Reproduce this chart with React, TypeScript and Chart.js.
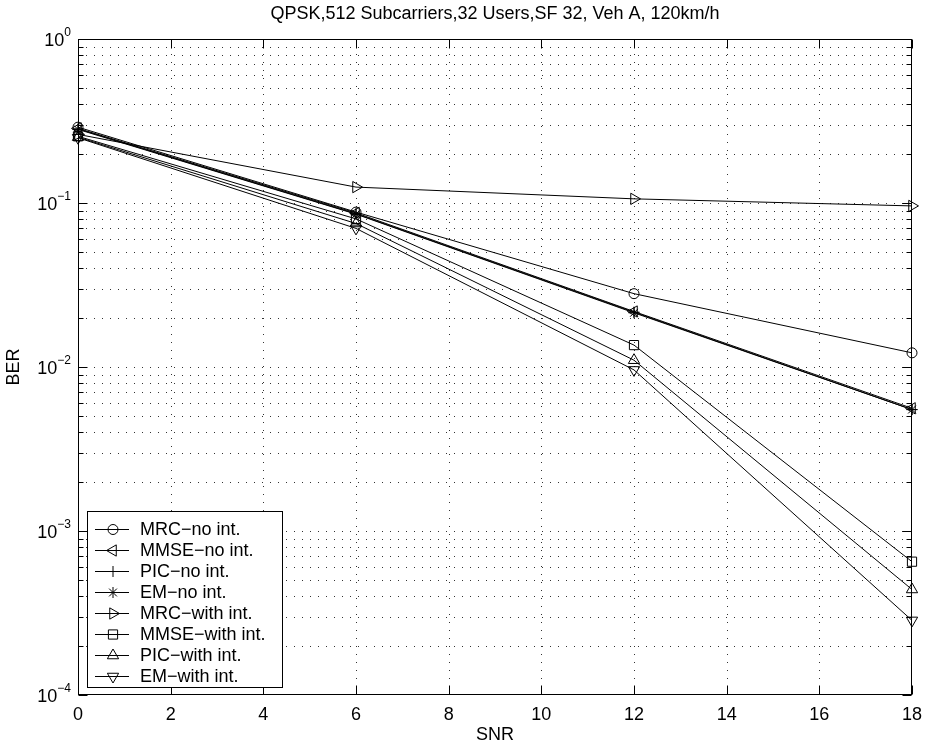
import React, { useEffect, useRef } from 'react';
import { Chart, registerables } from 'chart.js';
import { drawPoint } from 'chart.js/helpers';
Chart.register(...registerables);

// ---- data ----
const snr = [0, 6, 12, 18];
const mrcNoInt = [0.29, 0.088, 0.028, 0.0122];
const mmseNoInt = [0.285, 0.087, 0.0218, 0.0056];
const picNoInt = [0.283, 0.086, 0.0216, 0.0055];
const emNoInt = [0.281, 0.0855, 0.0214, 0.0055];
const mrcWithInt = [0.262, 0.125, 0.106, 0.096];
const mmseWithInt = [0.255, 0.08, 0.0136, 0.00065];
const picWithInt = [0.252, 0.075, 0.011, 0.00044];
const emWithInt = [0.25, 0.07, 0.0096, 0.000285];

const seriesLabels = [
  'MRC\u2212no int.',
  'MMSE\u2212no int.',
  'PIC\u2212no int.',
  'EM\u2212no int.',
  'MRC\u2212with int.',
  'MMSE\u2212with int.',
  'PIC\u2212with int.',
  'EM\u2212with int.',
];
const seriesValues = [mrcNoInt, mmseNoInt, picNoInt, emNoInt, mrcWithInt, mmseWithInt, picWithInt, emWithInt];
const markerStyles = ['circle', 'triangle', 'cross', 'star', 'triangle', 'rect', 'triangle', 'triangle'];
const markerRotations = [0, 270, 0, 0, 90, 0, 0, 180];
const markerRadii = [5, 6.5, 5.5, 5.5, 6.5, 6.5, 6.5, 6.5];

const xTicks = [0, 2, 4, 6, 8, 10, 12, 14, 16, 18];
const yDecadeExps = [-4, -3, -2, -1, 0];
const yExpLabels = ['\u22124', '\u22123', '\u22122', '\u22121', '0'];
const titleText = 'QPSK,512 Subcarriers,32 Users,SF 32, Veh A, 120km/h';
const xTitle = 'SNR';
const yTitle = 'BER';

const FONT = '"Liberation Sans", Arial, Helvetica, sans-serif';

const matlabPlugin = {
  id: 'matlabLook',
  beforeDatasetsDraw(chart: any) {
    const { ctx, chartArea: a, scales } = chart;
    const x = scales.x, y = scales.y;
    ctx.save();
    ctx.strokeStyle = 'rgba(0,0,0,0.8)';
    ctx.lineWidth = 1;
    ctx.setLineDash([1, 7]);
    for (const t of xTicks) {
      if (t === xTicks[0] || t === xTicks[xTicks.length - 1]) continue;
      const px = Math.round(x.getPixelForValue(t)) + 0.5;
      ctx.beginPath(); ctx.moveTo(px, a.bottom); ctx.lineTo(px, a.top); ctx.stroke();
    }
    for (let i = 0; i < yDecadeExps.length - 1; i++) {
      for (let m = 1; m <= 9; m++) {
        if (i === 0 && m === 1) continue;
        const v = m * Math.pow(10, yDecadeExps[i]);
        const py = Math.round(y.getPixelForValue(v)) + 0.5;
        ctx.beginPath(); ctx.moveTo(a.left, py); ctx.lineTo(a.right, py); ctx.stroke();
      }
    }
    ctx.restore();
  },
  afterDatasetsDraw(chart: any) {
    const { ctx, chartArea: a, scales } = chart;
    const x = scales.x, y = scales.y;
    ctx.save();
    ctx.setLineDash([]);
    ctx.strokeStyle = '#000';
    ctx.lineWidth = 1;
    const L = Math.round(a.left) + 0.5, R = Math.round(a.right) - 0.5;
    const T = Math.round(a.top) + 0.5, B = Math.round(a.bottom) - 0.5;
    ctx.strokeRect(L, T, R - L, B - T);
    // ticks
    const major = 9, minor = 5;
    ctx.beginPath();
    for (const t of xTicks) {
      const px = Math.round(x.getPixelForValue(t)) + 0.5;
      ctx.moveTo(px, B); ctx.lineTo(px, B - major);
      ctx.moveTo(px, T); ctx.lineTo(px, T + major);
    }
    for (let i = 0; i < yDecadeExps.length; i++) {
      const py0 = Math.round(y.getPixelForValue(Math.pow(10, yDecadeExps[i]))) + 0.5;
      ctx.moveTo(L, py0); ctx.lineTo(L + major, py0);
      ctx.moveTo(R, py0); ctx.lineTo(R - major, py0);
      if (i < yDecadeExps.length - 1) {
        for (let m = 2; m <= 9; m++) {
          const py = Math.round(y.getPixelForValue(m * Math.pow(10, yDecadeExps[i]))) + 0.5;
          ctx.moveTo(L, py); ctx.lineTo(L + minor, py);
          ctx.moveTo(R, py); ctx.lineTo(R - minor, py);
        }
      }
    }
    ctx.stroke();
    // labels
    ctx.fillStyle = '#000';
    ctx.font = `18px ${FONT}`;
    ctx.textAlign = 'center';
    ctx.textBaseline = 'alphabetic';
    for (const t of xTicks) {
      ctx.fillText(String(t), x.getPixelForValue(t), 720);
    }
    for (let i = 0; i < yDecadeExps.length; i++) {
      const py = y.getPixelForValue(Math.pow(10, yDecadeExps[i]));
      ctx.font = `12px ${FONT}`;
      const ew = ctx.measureText(yExpLabels[i]).width;
      const expX = 71 - ew;
      ctx.textAlign = 'left';
      ctx.textBaseline = 'alphabetic';
      ctx.fillText(yExpLabels[i], expX, py - 3);
      ctx.font = `18px ${FONT}`;
      ctx.textAlign = 'right';
      ctx.fillText('10', expX, py + 7);
    }
    // title & axis titles
    ctx.textAlign = 'center';
    ctx.font = `18px ${FONT}`;
    const cx = (a.left + a.right) / 2;
    ctx.fillText(titleText, cx, 19);
    ctx.fillText(xTitle, cx, 740);
    ctx.save();
    ctx.translate(19, (a.top + a.bottom) / 2);
    ctx.rotate(-Math.PI / 2);
    ctx.textBaseline = 'alphabetic';
    ctx.fillText(yTitle, 0, 0);
    ctx.restore();
    // legend
    const lx0 = 87, ly0 = 511, lx1 = 282, ly1 = 687;
    ctx.fillStyle = '#fff';
    ctx.fillRect(lx0, ly0, lx1 - lx0, ly1 - ly0);
    ctx.strokeStyle = '#000';
    ctx.lineWidth = 1;
    ctx.strokeRect(lx0 + 0.5, ly0 + 0.5, lx1 - lx0, ly1 - ly0);
    ctx.font = `18px ${FONT}`;
    ctx.textAlign = 'left';
    ctx.textBaseline = 'middle';
    for (let i = 0; i < seriesLabels.length; i++) {
      const ry = 529 + i * 21;
      const ly = Math.round(ry) + 0.5;
      ctx.strokeStyle = '#000';
      ctx.lineWidth = 1;
      ctx.beginPath(); ctx.moveTo(95, ly); ctx.lineTo(129, ly); ctx.stroke();
      ctx.fillStyle = 'rgba(0,0,0,0)';
      drawPoint(ctx, {
        pointStyle: markerStyles[i] as any,
        rotation: markerRotations[i],
        radius: markerRadii[i],
        borderWidth: 1,
      } as any, 113, ly);
      ctx.fillStyle = '#000';
      ctx.fillText(seriesLabels[i], 140, ry + 1);
    }
    ctx.restore();
  },
};

export default function App() {
  const ref = useRef<HTMLCanvasElement>(null);
  useEffect(() => {
    if (!ref.current) return;
    const datasets = seriesValues.map((vals, i) => ({
      label: seriesLabels[i],
      data: snr.map((s, j) => ({ x: s, y: vals[j] })),
      borderColor: '#000',
      borderWidth: 1,
      backgroundColor: 'rgba(0,0,0,0)',
      pointStyle: markerStyles[i],
      rotation: markerRotations[i],
      pointRadius: markerRadii[i],
      pointBorderColor: '#000',
      pointBackgroundColor: 'rgba(0,0,0,0)',
      pointBorderWidth: 1,
      tension: 0,
      fill: false,
      clip: false,
    }));
    const chart = new Chart(ref.current, {
      type: 'line',
      data: { datasets } as any,
      options: {
        animation: false,
        responsive: false,
        devicePixelRatio: 1,
        layout: { padding: { left: 78, top: 39, right: 13, bottom: 49 } },
        plugins: { legend: { display: false }, tooltip: { enabled: false }, title: { display: false } },
        scales: {
          x: { type: 'linear', min: 0, max: 18, display: false },
          y: { type: 'logarithmic', min: 1e-4, max: 1, display: false },
        },
      } as any,
      plugins: [matlabPlugin],
    });
    return () => chart.destroy();
  }, []);
  return (
    <div style={{ position: 'fixed', left: 0, top: 0, width: 925, height: 744, background: '#fff' }}>
      <canvas ref={ref} width={925} height={744} style={{ width: 925, height: 744, display: 'block' }} />
    </div>
  );
}
